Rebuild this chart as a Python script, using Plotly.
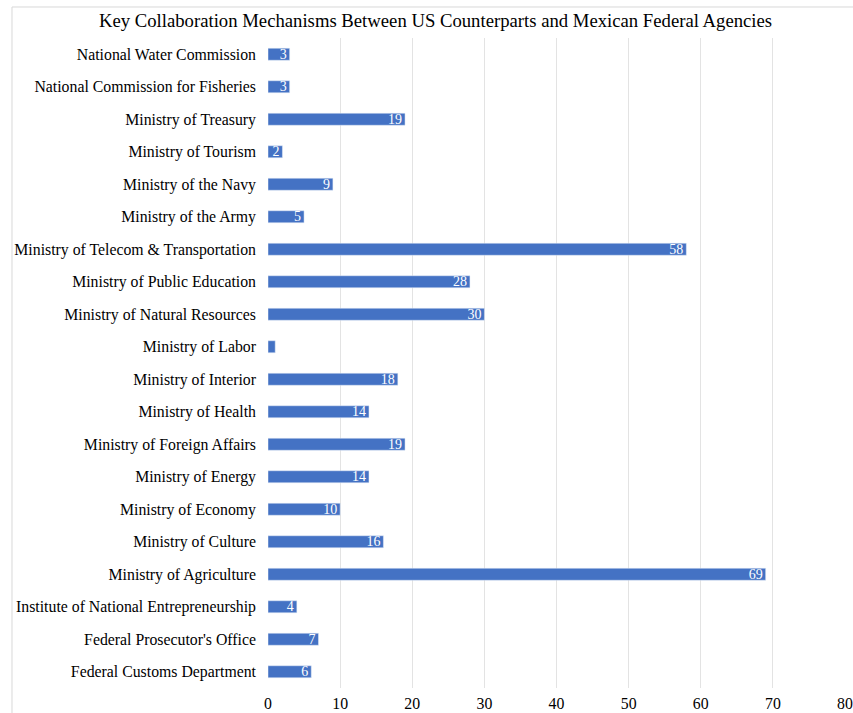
import plotly.graph_objects as go

categories = [
    "Federal Customs Department",
    "Federal Prosecutor's Office",
    "Institute of National Entrepreneurship",
    "Ministry of Agriculture",
    "Ministry of Culture",
    "Ministry of Economy",
    "Ministry of Energy",
    "Ministry of Foreign Affairs",
    "Ministry of Health",
    "Ministry of Interior",
    "Ministry of Labor",
    "Ministry of Natural Resources",
    "Ministry of Public Education",
    "Ministry of Telecom & Transportation",
    "Ministry of the Army",
    "Ministry of the Navy",
    "Ministry of Tourism",
    "Ministry of Treasury",
    "National Commission for Fisheries",
    "National Water Commission",
]
values = [6, 7, 4, 69, 16, 10, 14, 19, 14, 18, 1, 30, 28, 58, 5, 9, 2, 19, 3, 3]
bar_labels = [str(v) if v > 1 else "" for v in values]
x_ticks = [0, 10, 20, 30, 40, 50, 60, 70, 80]

FONT = "Liberation Serif, Times New Roman, serif"

fig = go.Figure(go.Bar(
    y=categories, x=values, orientation="h",
    marker=dict(color="#4472C4"),
    width=0.37,
    text=bar_labels, textposition="inside", insidetextanchor="end", textangle=0,
    textfont=dict(family=FONT, size=14, color="white"),
    cliponaxis=False,
))

fig.update_layout(
    width=853, height=713,
    margin=dict(l=268, r=8, t=38, b=25),
    paper_bgcolor="white", plot_bgcolor="white",
    font=dict(family=FONT, size=15.8, color="black"),
    title=dict(text="Key Collaboration Mechanisms Between US Counterparts and Mexican Federal Agencies",
               x=0.5106, xref="container", xanchor="center", y=0.972, yanchor="middle",
               font=dict(family=FONT, size=18.7, color="black")),
    xaxis=dict(range=[0, 80], tickvals=x_ticks, showgrid=True, gridcolor="#e3e3e3",
               gridwidth=1, zeroline=False, showline=False, automargin=False,
               tickfont=dict(family=FONT, size=15.8, color="black"), ticklabelstandoff=4),
    yaxis=dict(range=[-0.5, 19.5], showgrid=False, zeroline=False, showline=False, automargin=False,
               tickfont=dict(family=FONT, size=15.8, color="black"), ticklabelstandoff=11),
    showlegend=False,
    uniformtext=dict(minsize=14, mode="show"),
    shapes=[dict(type="rect", xref="paper", yref="paper",
                 x0=-0.4437, x1=1.2, y0=-0.2, y1=1.0477,
                 line=dict(color="#d9d9d9", width=1), fillcolor="rgba(0,0,0,0)", layer="below")],
)

fig.write_html("out.html")
